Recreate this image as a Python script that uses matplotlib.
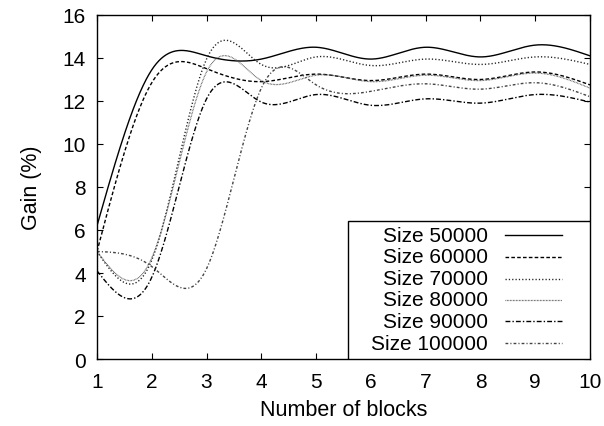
import numpy as np
import matplotlib
matplotlib.use("Agg")
import matplotlib.pyplot as plt
from matplotlib.lines import Line2D
from matplotlib.patches import Rectangle

plt.rcParams['font.family'] = ['Liberation Sans', 'DejaVu Sans']

blocks = [1, 2, 3, 4, 5, 6, 7, 8, 9, 10]
labels = ["Size 50000", "Size 60000", "Size 70000", "Size 80000", "Size 90000", "Size 100000"]
gain_50000 = [6.2, 13.45, 14.1, 13.95, 14.5, 13.95, 14.5, 14.05, 14.6, 14.1]
gain_60000 = [5.0, 12.85, 13.5, 12.9, 13.25, 12.95, 13.25, 13.0, 13.35, 12.75]
gain_70000 = [5.0, 4.6, 13.95, 13.7, 14.05, 13.65, 13.95, 13.7, 14.05, 13.7]
gain_80000 = [5.0, 4.7, 13.35, 12.95, 13.2, 12.9, 13.2, 12.95, 13.3, 12.6]
gain_90000 = [4.1, 3.8, 12.1, 11.95, 12.3, 11.8, 12.1, 11.9, 12.3, 11.95]
gain_100000 = [5.0, 4.3, 4.2, 12.6, 12.75, 12.45, 12.8, 12.55, 12.85, 12.2]
series = [gain_50000, gain_60000, gain_70000, gain_80000, gain_90000, gain_100000]

styles = [
    dict(color='black', lw=1.0, ls='-'),
    dict(color='black', lw=1.0, ls=(0, (2.6, 1.6))),
    dict(color='#222222', lw=1.0, ls=(0, (0.9, 1.5))),
    dict(color='#555555', lw=0.9, ls=(0, (0.6, 0.6))),
    dict(color='black', lw=1.0, ls=(0, (3.5, 1.5, 1.0, 1.5))),
    dict(color='#444444', lw=1.0, ls=(0, (2.0, 1.5, 0.8, 1.5))),
]


def natural_cspline(x, y, num=600):
    x = np.asarray(x, float)
    y = np.asarray(y, float)
    n = len(x)
    h = np.diff(x)
    A = np.zeros((n, n))
    b = np.zeros(n)
    A[0, 0] = 1
    A[-1, -1] = 1
    for i in range(1, n - 1):
        A[i, i - 1] = h[i - 1]
        A[i, i] = 2 * (h[i - 1] + h[i])
        A[i, i + 1] = h[i]
        b[i] = 6 * ((y[i + 1] - y[i]) / h[i] - (y[i] - y[i - 1]) / h[i - 1])
    M = np.linalg.solve(A, b)
    xs = np.linspace(x[0], x[-1], num)
    idx = np.clip(np.searchsorted(x, xs) - 1, 0, n - 2)
    x0, x1 = x[idx], x[idx + 1]
    hh = x1 - x0
    t0 = x1 - xs
    t1 = xs - x0
    ys = (M[idx] * t0 ** 3 / (6 * hh) + M[idx + 1] * t1 ** 3 / (6 * hh)
          + (y[idx] / hh - M[idx] * hh / 6) * t0
          + (y[idx + 1] / hh - M[idx + 1] * hh / 6) * t1)
    return xs, ys


fig = plt.figure(figsize=(6.04, 4.27), dpi=100)
ax = fig.add_axes([97 / 604, 1 - 360 / 427, 493 / 604, 344 / 427])

for vals, st in zip(series, styles):
    xs, ys = natural_cspline(blocks, vals)
    ax.plot(xs, ys, **st)

ax.set_xlim(1, 10)
ax.set_ylim(0, 16)
ax.set_xticks(blocks)
ax.set_yticks(range(0, 17, 2))
ax.tick_params(direction='in', length=4.5, width=0.8, top=True, right=True,
               labelsize=15)
ax.tick_params(axis='x', pad=9)
ax.tick_params(axis='y', pad=8)
for sp in ax.spines.values():
    sp.set_linewidth(1.0)
ax.set_xlabel("Number of blocks", fontsize=15.5)
ax.set_ylabel("Gain (%)", fontsize=15.5)
ax.xaxis.set_label_coords(0.5, (360 - 410) / 344)
ax.xaxis.label.set_va('center')
ax.yaxis.set_label_coords((32 - 97) / 493, 0.5)
ax.yaxis.label.set_va('center')

# legend box (gnuplot style: text right-aligned, sample on the right)
ax.add_patch(Rectangle((0.509, 0.0), 1 - 0.509, 0.401, transform=ax.transAxes,
                       facecolor='white', edgecolor='black', lw=1.0, zorder=5))
rows = [0.360, 0.297, 0.233, 0.172, 0.110, 0.0465]
for lab, st, yy in zip(labels, styles, rows):
    ax.text(0.793, yy, lab, transform=ax.transAxes, ha='right', va='center',
            fontsize=15, zorder=6)
    ax.add_line(Line2D([0.828, 0.943], [yy, yy], transform=ax.transAxes,
                       zorder=6, **st))

fig.savefig("out.png", dpi=100)
